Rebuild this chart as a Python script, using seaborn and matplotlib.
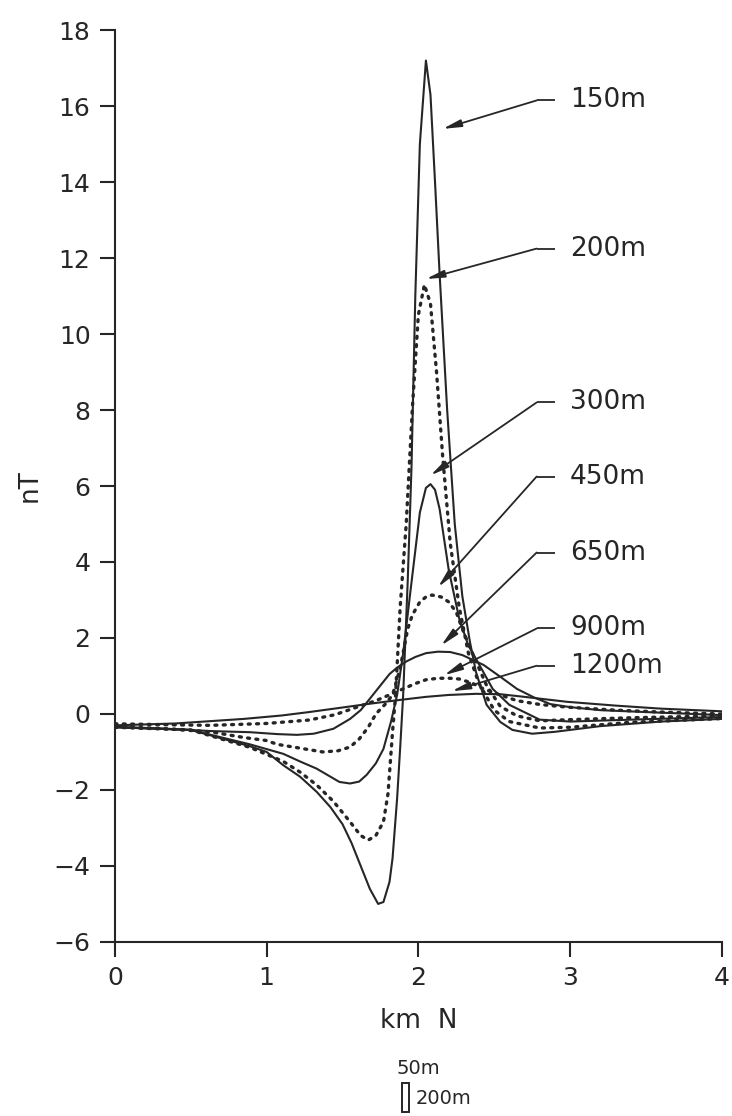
import numpy as np
import pandas as pd
import matplotlib
matplotlib.use("Agg")
import matplotlib.pyplot as plt
import matplotlib.patches as mpatches
import seaborn as sns

# Perfis de anomalia magnética (nT) para diferentes profundidades
x150 = [0, 0.5, 0.89, 1.0, 1.11, 1.22, 1.33, 1.42, 1.5, 1.56, 1.61, 1.68, 1.735, 1.77, 1.81,
        1.83, 1.86, 1.88, 1.90, 1.93, 1.955, 1.98, 2.01, 2.05, 2.08, 2.11, 2.14, 2.19, 2.24,
        2.29, 2.34, 2.38, 2.45, 2.54, 2.62, 2.75, 2.9, 3.2, 3.6, 4.0]
y150 = [-0.35, -0.42, -0.85, -1.0, -1.35, -1.65, -2.05, -2.45, -2.9, -3.4, -3.9, -4.6, -5.0, -4.95, -4.42,
        -3.8, -2.23, -0.91, 0.5, 3.5, 6.5, 11.0, 15.0, 17.2, 16.3, 14.0, 11.6, 8.0, 5.0,
        3.1, 1.9, 1.1, 0.24, -0.21, -0.42, -0.52, -0.47, -0.32, -0.2, -0.13]

x200 = [0, 0.5, 0.89, 1.11, 1.22, 1.33, 1.44, 1.55, 1.62, 1.67, 1.72, 1.77, 1.80, 1.83, 1.85,
        1.88, 1.92, 1.96, 2.0, 2.04, 2.08, 2.12, 2.16, 2.21, 2.27, 2.33, 2.4, 2.5, 2.6, 2.8,
        3.0, 3.4, 4.0]
y200 = [-0.35, -0.42, -0.88, -1.25, -1.53, -1.87, -2.3, -2.84, -3.2, -3.32, -3.2, -2.84, -2.1, -0.47, 0.5,
        2.8, 5.0, 8.0, 10.5, 11.3, 10.8, 9.0, 6.8, 4.5, 2.8, 1.6, 0.8, 0.1, -0.2, -0.37,
        -0.35, -0.22, -0.12]

x300 = [0, 0.5, 0.89, 1.11, 1.22, 1.33, 1.48, 1.55, 1.61, 1.66, 1.72, 1.77, 1.82, 1.86, 1.9,
        1.95, 2.01, 2.05, 2.08, 2.11, 2.14, 2.2, 2.27, 2.33, 2.38, 2.49, 2.6, 2.8, 3.0, 3.4, 4.0]
y300 = [-0.35, -0.42, -0.8, -1.05, -1.25, -1.44, -1.79, -1.83, -1.78, -1.6, -1.3, -0.92, -0.2, 0.5, 1.6,
        3.3, 5.3, 5.95, 6.05, 5.9, 5.4, 3.8, 2.5, 1.8, 1.45, 0.66, 0.24, -0.15, -0.2, -0.15, -0.08]

x450 = [0, 0.3, 0.63, 0.85, 1.0, 1.07, 1.22, 1.37, 1.47, 1.55, 1.61, 1.67, 1.72, 1.78, 1.83,
        1.88, 1.93, 1.96, 2.01, 2.05, 2.09, 2.15, 2.2, 2.25, 2.29, 2.34, 2.4, 2.45, 2.54, 2.65,
        2.8, 3.0, 3.4, 4.0]
y450 = [-0.34, -0.38, -0.47, -0.62, -0.7, -0.8, -0.9, -1.0, -0.97, -0.87, -0.66, -0.35, 0.0, 0.25, 0.5,
        1.2, 2.24, 2.6, 2.95, 3.08, 3.13, 3.08, 2.95, 2.68, 2.24, 1.75, 1.2, 0.75, 0.2, -0.05,
        -0.18, -0.15, -0.1, -0.05]

x650 = [0, 0.3, 0.63, 0.89, 1.07, 1.2, 1.31, 1.44, 1.55, 1.62, 1.7, 1.76, 1.81, 1.86, 1.92,
        1.98, 2.05, 2.13, 2.21, 2.29, 2.36, 2.43, 2.54, 2.65, 2.76, 2.87, 3.0, 3.2, 3.5, 4.0]
y650 = [-0.34, -0.38, -0.45, -0.48, -0.53, -0.55, -0.52, -0.39, -0.13, 0.1, 0.5, 0.8, 1.05, 1.22, 1.38,
        1.5, 1.6, 1.64, 1.63, 1.55, 1.42, 1.29, 0.98, 0.66, 0.44, 0.26, 0.18, 0.1, 0.05, -0.03]

x900 = [0, 0.3, 0.63, 1.0, 1.28, 1.45, 1.61, 1.72, 1.82, 1.9, 1.98, 2.05, 2.13, 2.21, 2.27,
        2.35, 2.43, 2.54, 2.65, 2.8, 2.98, 3.3, 3.6, 4.0]
y900 = [-0.26, -0.28, -0.3, -0.25, -0.16, -0.02, 0.2, 0.35, 0.52, 0.66, 0.8, 0.9, 0.94, 0.94, 0.92,
        0.82, 0.66, 0.5, 0.35, 0.25, 0.18, 0.1, 0.05, 0.0]

x1200 = [0, 0.4, 0.85, 1.1, 1.28, 1.5, 1.7, 1.88, 2.05, 2.2, 2.38, 2.54, 2.7, 2.85, 2.98, 3.3, 3.6, 4.0]
y1200 = [-0.3, -0.25, -0.13, -0.04, 0.05, 0.17, 0.28, 0.37, 0.45, 0.5, 0.53, 0.52, 0.45, 0.38, 0.32,
         0.22, 0.14, 0.07]

rotulos = ['150m', '200m', '300m', '450m', '650m', '900m', '1200m']
rotulo_y = [16.15, 12.25, 8.2, 6.25, 4.25, 2.25, 1.27]
ponta_x = [2.16, 2.05, 2.08, 2.13, 2.15, 2.17, 2.22]
ponta_y = [15.4, 11.45, 6.28, 3.34, 1.8, 1.02, 0.6]

xticks = [0, 1, 2, 3, 4]
yticks = list(range(-6, 19, 2))

# Configurações visuais
sns.set_style("ticks")
plt.rcParams['font.family'] = ['DejaVu Sans']

cor = '#262626'
pontilhado = (0, (0.6, 1.9))

fig = plt.figure(figsize=(7.32, 11.16), dpi=100)
ax = fig.add_axes([0.157, 0.156, 0.829, 0.817])

curvas = [(x150, y150, '-'), (x200, y200, pontilhado), (x300, y300, '-'),
          (x450, y450, pontilhado), (x650, y650, '-'), (x900, y900, pontilhado),
          (x1200, y1200, '-')]

for xs, ys, estilo in curvas:
    df = pd.DataFrame({'km': xs, 'nT': ys})
    if estilo == '-':
        sns.lineplot(data=df, x='km', y='nT', ax=ax, color=cor, linewidth=1.5,
                     estimator=None, sort=False)
    else:
        sns.lineplot(data=df, x='km', y='nT', ax=ax, color=cor, linewidth=2.4,
                     linestyle=estilo, estimator=None, sort=False,
                     dash_capstyle='round')

# Rótulos com setas
for nome, ly, px, py in zip(rotulos, rotulo_y, ponta_x, ponta_y):
    ax.plot([2.78, 2.9], [ly, ly], color=cor, lw=1.3, solid_capstyle='butt')
    ax.annotate('', xy=(px, py), xytext=(2.78, ly),
                arrowprops=dict(arrowstyle='-|>,head_length=1.1,head_width=0.22',
                                color=cor, lw=1.3, shrinkA=0, shrinkB=0))
    ax.text(3.0, ly, nome, fontsize=19, color=cor, va='center', ha='left')

ax.set_xlim(0, 4)
ax.set_ylim(-6, 18)
ax.set_xticks(xticks)
ax.set_yticks(yticks)
ax.tick_params(axis='both', direction='out', length=10.5, width=1.5, color=cor,
               labelsize=18, labelcolor=cor, pad=7)
for lado in ['top', 'right']:
    ax.spines[lado].set_visible(False)
for lado in ['left', 'bottom']:
    ax.spines[lado].set_linewidth(1.5)
    ax.spines[lado].set_color(cor)

ax.set_xlabel('km  N', fontsize=19, color=cor, labelpad=13)
ax.set_ylabel('nT', fontsize=19, color=cor, labelpad=8)

# Escala do corpo
fig.text(418 / 732, 1 - 1068 / 1116, '50m', fontsize=14, color=cor, ha='center', va='center')
fig.text(416 / 732, 1 - 1099 / 1116, '200m', fontsize=14, color=cor, ha='left', va='center')
fig.patches.append(mpatches.Rectangle((402 / 732, 1 - 1112 / 1116), 7 / 732, 29 / 1116,
                                      transform=fig.transFigure, fill=False,
                                      edgecolor=cor, lw=1.4))

plt.savefig('out.png', dpi=100, facecolor='white')
